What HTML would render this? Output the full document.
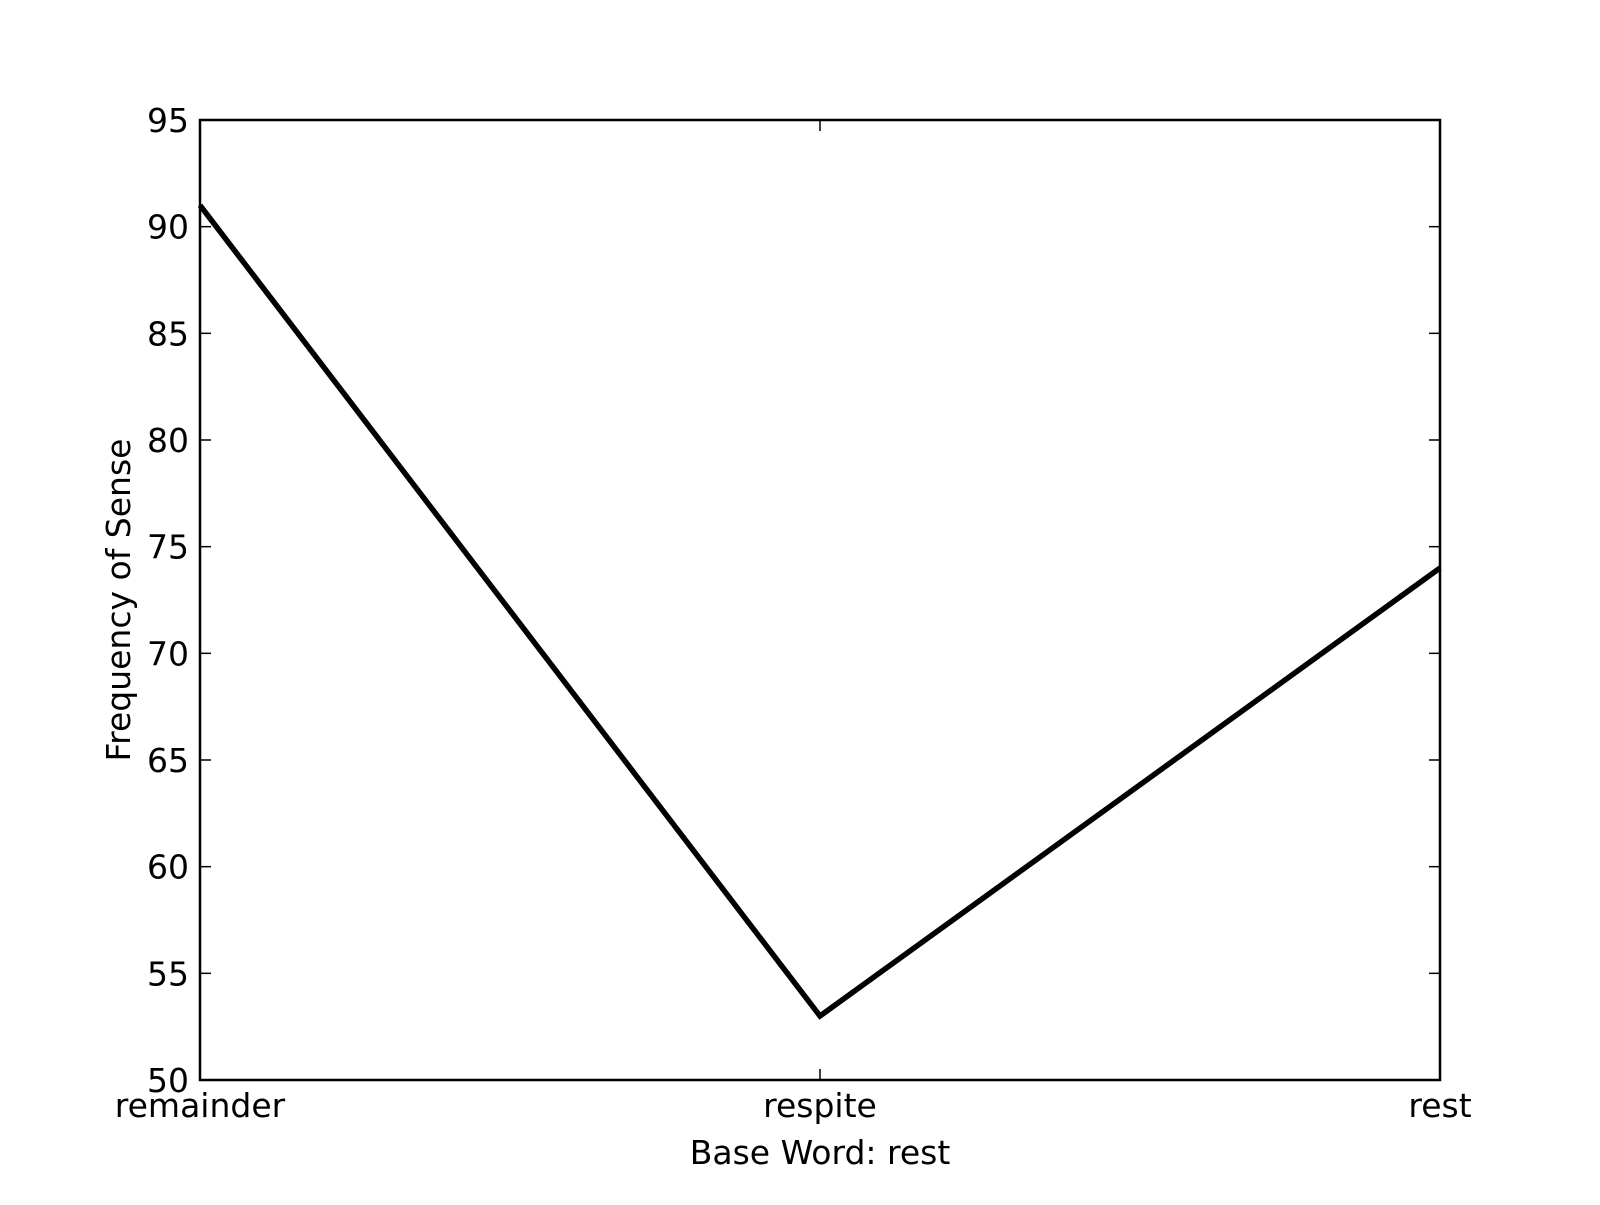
<!DOCTYPE html>
<html><head><meta charset="utf-8"><style>
html,body{margin:0;padding:0;background:#fff;}
svg text{font-family:"DejaVu Sans","Liberation Sans",sans-serif;fill:#000;}
</style></head><body>
<svg id="chart" width="1600" height="1200" xmlns="http://www.w3.org/2000/svg">
<rect width="1600" height="1200" fill="#fff"/>
<g id="plot"></g>
</svg>
<script>
const categories = ["remainder", "respite", "rest"];
const values = [91, 53, 74];
const yTicks = [50, 55, 60, 65, 70, 75, 80, 85, 90, 95];
const L = 200, R = 1440, T = 120, B = 1080, yMin = 50, yMax = 95;
const NS = "http://www.w3.org/2000/svg";
const g = document.getElementById("plot");
function x(i){ return L + (R - L) * i / (categories.length - 1); }
function y(v){ return B - (B - T) * (v - yMin) / (yMax - yMin); }
function mk(tag, attrs, parent){ const e = document.createElementNS(NS, tag); for (const k in attrs) e.setAttribute(k, attrs[k]); (parent||g).appendChild(e); return e; }

const pts = values.map((v,i)=>x(i)+","+y(v)).join(" ");
const line = mk("polyline",{points:pts,fill:"none",stroke:"#000","stroke-width":5.5,"stroke-linejoin":"miter"});



yTicks.forEach(t=>{
  const yy = y(t);
  const tl = mk("line",{x1:L,x2:L+11,y1:yy,y2:yy,stroke:"#000","stroke-width":1.5});
  
  
  const tr = mk("line",{x1:R-11,x2:R,y1:yy,y2:yy,stroke:"#000","stroke-width":1.5});
  
  
  const lb = mk("text",{x:L-11,y:yy+12,"text-anchor":"end","font-size":"33"});
  lb.textContent = t;
  
  
});
categories.forEach((c,i)=>{
  const xx = x(i);
  const tb = mk("line",{x1:xx,x2:xx,y1:B,y2:B-11,stroke:"#000","stroke-width":1.5});
  
  
  const tt = mk("line",{x1:xx,x2:xx,y1:T,y2:T+11,stroke:"#000","stroke-width":1.5});
  
  
  const lb = mk("text",{x:xx,y:B+37,"text-anchor":"middle","font-size":"33"});
  lb.textContent = c;
  
  
});
const fr = mk("rect",{x:L,y:T,width:R-L,height:B-T,fill:"none",stroke:"#000","stroke-width":2.5});


const xt = mk("text",{x:(L+R)/2,y:1164,"text-anchor":"middle","font-size":"33"});
xt.textContent = "Base Word: rest";


const yt = mk("text",{x:0,y:0,"text-anchor":"middle","font-size":"33",transform:"translate(130,"+((T+B)/2)+") rotate(-90)"});
yt.textContent = "Frequency of Sense";


</script>
</body></html>
